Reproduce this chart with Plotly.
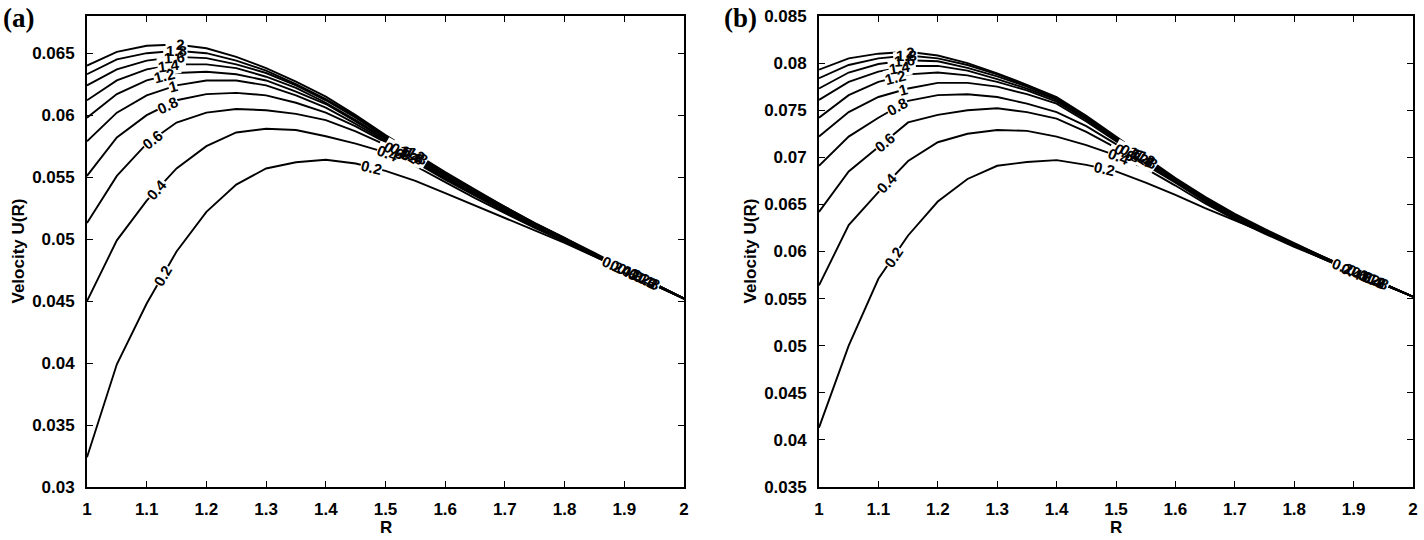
import numpy as np
import plotly.graph_objects as go

# ---------------- data ----------------
R = [1.00, 1.05, 1.10, 1.15, 1.20, 1.25, 1.30, 1.35, 1.40, 1.45, 1.50,
     1.55, 1.60, 1.65, 1.70, 1.75, 1.80, 1.85, 1.90, 1.95, 2.00]

levels = [0.2, 0.4, 0.6, 0.8, 1.0, 1.2, 1.4, 1.6, 1.8, 2.0]
level_text = ["0.2", "0.4", "0.6", "0.8", "1", "1.2", "1.4", "1.6", "1.8", "2"]

# panel (a)
a_02 = [0.0324, 0.0399, 0.0448, 0.0490, 0.0522, 0.0544, 0.0557, 0.0562, 0.0564, 0.0561, 0.0555,
        0.0547, 0.0537, 0.0527, 0.0517, 0.0507, 0.0497, 0.0486, 0.0475, 0.0463, 0.0452]
a_04 = [0.0450, 0.0499, 0.0531, 0.0557, 0.0575, 0.0586, 0.0589, 0.0588, 0.0583, 0.0577, 0.0570,
        0.0559, 0.0546, 0.0533, 0.0521, 0.0509, 0.0498, 0.0486, 0.0475, 0.0463, 0.0452]
a_06 = [0.0513, 0.0551, 0.0577, 0.0594, 0.0602, 0.0605, 0.0604, 0.0601, 0.0596, 0.0587, 0.0576,
        0.0562, 0.0548, 0.0535, 0.0522, 0.0510, 0.0498, 0.0487, 0.0475, 0.0463, 0.0452]
a_08 = [0.0551, 0.0582, 0.0600, 0.0612, 0.0617, 0.0618, 0.0616, 0.0610, 0.0602, 0.0591, 0.0578,
        0.0563, 0.0549, 0.0536, 0.0523, 0.0511, 0.0499, 0.0487, 0.0475, 0.0464, 0.0452]
a_10 = [0.0579, 0.0602, 0.0616, 0.0624, 0.0628, 0.0628, 0.0624, 0.0616, 0.0606, 0.0593, 0.0579,
        0.0564, 0.0550, 0.0537, 0.0524, 0.0511, 0.0499, 0.0487, 0.0476, 0.0464, 0.0452]
a_12 = [0.0598, 0.0617, 0.0628, 0.0634, 0.0635, 0.0633, 0.0628, 0.0619, 0.0609, 0.0595, 0.0580,
        0.0565, 0.0551, 0.0537, 0.0524, 0.0512, 0.0500, 0.0488, 0.0476, 0.0464, 0.0452]
a_14 = [0.0612, 0.0628, 0.0637, 0.0641, 0.0641, 0.0638, 0.0631, 0.0622, 0.0610, 0.0596, 0.0581,
        0.0566, 0.0552, 0.0538, 0.0525, 0.0512, 0.0500, 0.0488, 0.0476, 0.0464, 0.0452]
a_16 = [0.0624, 0.0637, 0.0644, 0.0647, 0.0646, 0.0641, 0.0634, 0.0624, 0.0612, 0.0598, 0.0582,
        0.0567, 0.0552, 0.0539, 0.0525, 0.0512, 0.0500, 0.0488, 0.0476, 0.0464, 0.0452]
a_18 = [0.0633, 0.0645, 0.0650, 0.0652, 0.0650, 0.0644, 0.0636, 0.0625, 0.0613, 0.0599, 0.0583,
        0.0568, 0.0553, 0.0539, 0.0526, 0.0513, 0.0501, 0.0488, 0.0476, 0.0464, 0.0452]
a_20 = [0.0640, 0.0651, 0.0656, 0.0657, 0.0654, 0.0647, 0.0638, 0.0627, 0.0615, 0.0600, 0.0584,
        0.0569, 0.0554, 0.0540, 0.0526, 0.0513, 0.0501, 0.0489, 0.0476, 0.0464, 0.0452]

# panel (b)
b_02 = [0.0413, 0.0500, 0.0571, 0.0617, 0.0653, 0.0677, 0.0691, 0.0695, 0.0697, 0.0692, 0.0685,
        0.0673, 0.0660, 0.0646, 0.0633, 0.0620, 0.0606, 0.0592, 0.0579, 0.0565, 0.0552]
b_04 = [0.0564, 0.0628, 0.0663, 0.0696, 0.0716, 0.0725, 0.0729, 0.0728, 0.0722, 0.0713, 0.0702,
        0.0688, 0.0670, 0.0651, 0.0634, 0.0619, 0.0605, 0.0592, 0.0578, 0.0565, 0.0552]
b_06 = [0.0642, 0.0685, 0.0711, 0.0737, 0.0745, 0.0750, 0.0752, 0.0748, 0.0741, 0.0727, 0.0710,
        0.0692, 0.0673, 0.0653, 0.0635, 0.0620, 0.0606, 0.0592, 0.0579, 0.0565, 0.0552]
b_08 = [0.0691, 0.0722, 0.0742, 0.0760, 0.0766, 0.0767, 0.0764, 0.0757, 0.0748, 0.0733, 0.0714,
        0.0694, 0.0674, 0.0654, 0.0636, 0.0621, 0.0607, 0.0593, 0.0579, 0.0565, 0.0552]
b_10 = [0.0722, 0.0748, 0.0764, 0.0773, 0.0779, 0.0779, 0.0775, 0.0767, 0.0757, 0.0738, 0.0717,
        0.0696, 0.0675, 0.0655, 0.0637, 0.0621, 0.0607, 0.0593, 0.0579, 0.0566, 0.0552]
b_12 = [0.0742, 0.0766, 0.0780, 0.0788, 0.0790, 0.0787, 0.0780, 0.0771, 0.0759, 0.0740, 0.0718,
        0.0697, 0.0676, 0.0656, 0.0638, 0.0622, 0.0607, 0.0593, 0.0579, 0.0566, 0.0552]
b_14 = [0.0761, 0.0780, 0.0791, 0.0797, 0.0797, 0.0792, 0.0783, 0.0773, 0.0761, 0.0741, 0.0719,
        0.0697, 0.0676, 0.0656, 0.0638, 0.0622, 0.0608, 0.0593, 0.0579, 0.0566, 0.0552]
b_16 = [0.0773, 0.0790, 0.0799, 0.0803, 0.0802, 0.0795, 0.0786, 0.0775, 0.0762, 0.0742, 0.0720,
        0.0698, 0.0677, 0.0657, 0.0639, 0.0623, 0.0608, 0.0594, 0.0580, 0.0566, 0.0552]
b_18 = [0.0784, 0.0798, 0.0805, 0.0808, 0.0805, 0.0798, 0.0788, 0.0776, 0.0763, 0.0743, 0.0721,
        0.0699, 0.0677, 0.0657, 0.0639, 0.0623, 0.0608, 0.0594, 0.0580, 0.0566, 0.0552]
b_20 = [0.0793, 0.0805, 0.0810, 0.0812, 0.0808, 0.0800, 0.0789, 0.0777, 0.0764, 0.0744, 0.0722,
        0.0700, 0.0678, 0.0658, 0.0640, 0.0624, 0.0609, 0.0594, 0.0580, 0.0566, 0.0552]

x_ticks = [1, 1.1, 1.2, 1.3, 1.4, 1.5, 1.6, 1.7, 1.8, 1.9, 2]
x_ticktext = ["1", "1.1", "1.2", "1.3", "1.4", "1.5", "1.6", "1.7", "1.8", "1.9", "2"]
ya_ticks = [0.03, 0.035, 0.04, 0.045, 0.05, 0.055, 0.06, 0.065]
ya_ticktext = ["0.03", "0.035", "0.04", "0.045", "0.05", "0.055", "0.06", "0.065"]
yb_ticks = [0.035, 0.04, 0.045, 0.05, 0.055, 0.06, 0.065, 0.07, 0.075, 0.08, 0.085]
yb_ticktext = ["0.035", "0.04", "0.045", "0.05", "0.055", "0.06", "0.065", "0.07", "0.075", "0.08", "0.085"]

# inline label positions (R) for each level, three groups per panel
a_lab1 = [1.127, 1.117, 1.110, 1.134, 1.144, 1.130, 1.138, 1.146, 1.150, 1.156]
a_lab2 = [1.477, 1.505, 1.515, 1.525, 1.532, 1.538, 1.543, 1.548, 1.553, 1.558]
a_lab3 = [1.880, 1.895, 1.905, 1.913, 1.920, 1.926, 1.932, 1.938, 1.943, 1.948]
b_lab1 = [1.125, 1.115, 1.110, 1.132, 1.142, 1.128, 1.136, 1.144, 1.148, 1.154]
b_lab2 = [1.480, 1.505, 1.515, 1.525, 1.532, 1.538, 1.543, 1.548, 1.553, 1.558]
b_lab3 = [1.882, 1.897, 1.906, 1.914, 1.920, 1.926, 1.932, 1.937, 1.942, 1.946]

# ---------------- layout geometry ----------------
W, H = 1424, 540
top_px, bot_px = 16, 487
xa_px = (87, 684)
xb_px = (819, 1413)
ya_range = [0.03, 0.068]
yb_range = [0.035, 0.085]

panels = [
    dict(curves=[a_02, a_04, a_06, a_08, a_10, a_12, a_14, a_16, a_18, a_20],
         labs=[a_lab1, a_lab2, a_lab3], xref="x", yref="y", xpx=xa_px, yr=ya_range),
    dict(curves=[b_02, b_04, b_06, b_08, b_10, b_12, b_14, b_16, b_18, b_20],
         labs=[b_lab1, b_lab2, b_lab3], xref="x2", yref="y2", xpx=xb_px, yr=yb_range),
]

fig = go.Figure()
annotations = []
lab_font = dict(family="Liberation Sans, Arial", size=15, color="black", weight="bold")

Rarr = np.array(R)
for p in panels:
    for lev, c in zip(levels, p["curves"]):
        fig.add_trace(go.Scatter(x=R, y=c, mode="lines", xaxis=p["xref"], yaxis=p["yref"],
                                 line=dict(color="black", width=1.9), showlegend=False,
                                 hoverinfo="skip"))
    pxR = (p["xpx"][1] - p["xpx"][0]) / 1.0
    pxV = (bot_px - top_px) / (p["yr"][1] - p["yr"][0])
    gaps, texts = [], []
    for g, labs in enumerate(p["labs"]):
        for i, c in enumerate(p["curves"]):
            r0 = labs[i]
            carr = np.array(c)
            v = float(np.interp(r0, Rarr, carr))
            v1 = float(np.interp(r0 - 0.02, Rarr, carr))
            v2 = float(np.interp(r0 + 0.02, Rarr, carr))
            slope = (v2 - v1) / 0.04
            ang = -np.degrees(np.arctan(slope * pxV / pxR))
            base = dict(x=r0, y=v, xref=p["xref"], yref=p["yref"], text=level_text[i],
                        showarrow=False, textangle=ang, xanchor="center", yanchor="middle")
            gaps.append(dict(base, font=dict(lab_font, color="rgba(255,255,255,0)"),
                             bgcolor="white", borderpad=0))
            texts.append(dict(base, font=lab_font))
    annotations += gaps + texts

axis_font = dict(family="Liberation Sans, Arial", size=17, color="black", weight="bold")
common_x = dict(range=[1, 2], tickvals=x_ticks, ticktext=x_ticktext, ticks="inside",
                ticklen=6, tickwidth=1.3, tickcolor="black", showline=True, linecolor="black",
                linewidth=1.8, mirror="ticks", showgrid=False, zeroline=False,
                tickfont=axis_font, ticklabelstandoff=6, automargin=False)
common_y = dict(ticks="inside", ticklen=6, tickwidth=1.3, tickcolor="black", showline=True,
                linecolor="black", linewidth=1.8, mirror="ticks", showgrid=False,
                zeroline=False, tickfont=axis_font, ticklabelstandoff=7, automargin=False)

ydom = [1 - bot_px / H, 1 - top_px / H]
fig.update_layout(
    width=W, height=H, margin=dict(l=0, r=0, t=0, b=0),
    paper_bgcolor="white", plot_bgcolor="white", showlegend=False,
    xaxis=dict(common_x, domain=[xa_px[0] / W, xa_px[1] / W], anchor="y"),
    yaxis=dict(common_y, domain=ydom, range=ya_range, tickvals=ya_ticks,
               ticktext=ya_ticktext, anchor="x"),
    xaxis2=dict(common_x, domain=[xb_px[0] / W, xb_px[1] / W], anchor="y2"),
    yaxis2=dict(common_y, domain=ydom, range=yb_range, tickvals=yb_ticks,
                ticktext=yb_ticktext, anchor="x2"),
)

title_font = dict(family="Liberation Sans, Arial", size=17, color="black")
panel_font = dict(family="Liberation Serif, Times New Roman", size=27, color="black")
mid_y = 1 - ((top_px + bot_px) / 2) / H
annotations += [
    dict(text="<b>Velocity U(R)</b>", x=18 / W, y=mid_y, xref="paper", yref="paper",
         textangle=-90, showarrow=False, font=title_font, xanchor="center", yanchor="middle"),
    dict(text="<b>Velocity U(R)</b>", x=750 / W, y=mid_y, xref="paper", yref="paper",
         textangle=-90, showarrow=False, font=title_font, xanchor="center", yanchor="middle"),
    dict(text="<b>R</b>", x=(xa_px[0] + xa_px[1]) / 2 / W, y=1 - 527 / H, xref="paper",
         yref="paper", showarrow=False, font=title_font, xanchor="center", yanchor="middle"),
    dict(text="<b>R</b>", x=(xb_px[0] + xb_px[1]) / 2 / W, y=1 - 527 / H, xref="paper",
         yref="paper", showarrow=False, font=title_font, xanchor="center", yanchor="middle"),
    dict(text="<b>(a)</b>", x=1 / W, y=1 - 1 / H, xref="paper", yref="paper",
         showarrow=False, font=panel_font, xanchor="left", yanchor="top"),
    dict(text="<b>(b)</b>", x=722 / W, y=1 - 1 / H, xref="paper", yref="paper",
         showarrow=False, font=panel_font, xanchor="left", yanchor="top"),
]
fig.update_layout(annotations=annotations)

fig.write_html("out.html",
               config={"displayModeBar": False},
               post_script="document.body.style.margin='0px';"
                           "document.body.style.overflow='hidden';")
